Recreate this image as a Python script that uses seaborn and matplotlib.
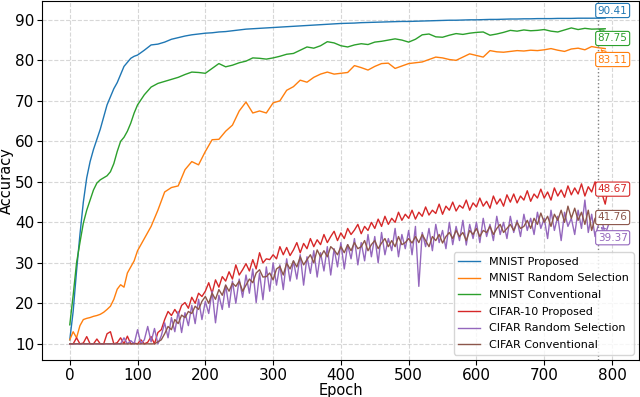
import numpy as np
import pandas as pd
import matplotlib
matplotlib.use('Agg')
import matplotlib.pyplot as plt
import seaborn as sns

# MNIST curves: every 5 epochs up to 100, then every 10
mnist_epochs = list(range(0, 100, 5)) + list(range(100, 800, 10))

mnist_proposed = [
    11.0, 18.0, 28.0, 37.0, 45.0, 51.0, 55.0, 58.0, 60.5, 63.0,
    66.0, 69.0, 71.0, 73.0, 74.5, 76.5, 78.5, 79.5, 80.5, 81.0,
    81.3, 82.5, 83.8, 84.0, 84.5, 85.2, 85.6, 86.0, 86.3, 86.5,
    86.7, 86.8, 87.0, 87.1, 87.3, 87.5, 87.7, 87.8, 87.9, 88.0,
    88.1, 88.2, 88.3, 88.4, 88.5, 88.6, 88.7, 88.8, 88.9, 89.0,
    89.1, 89.15, 89.2, 89.3, 89.35, 89.4, 89.45, 89.5, 89.55, 89.6,
    89.6, 89.65, 89.7, 89.75, 89.8, 89.85, 89.9, 89.9, 89.95, 90.0,
    90.0, 90.05, 90.1, 90.1, 90.15, 90.2, 90.2, 90.25, 90.25, 90.3,
    90.3, 90.3, 90.35, 90.35, 90.35, 90.4, 90.4, 90.4, 90.41, 90.45]

mnist_random = [
    11.0, 13.0, 11.5, 14.5, 16.0, 16.3, 16.5, 16.8, 17.0, 17.3,
    17.8, 18.5, 19.3, 21.0, 23.5, 24.6, 24.0, 27.5, 29.0, 30.5,
    33.0, 36.0, 39.0, 43.0, 47.5, 48.6, 49.0, 53.0, 55.0, 54.2,
    57.5, 60.4, 60.5, 62.5, 64.0, 67.5, 69.7, 67.0, 67.5, 67.0,
    69.5, 70.0, 72.6, 73.5, 75.1, 74.6, 75.8, 76.6, 77.1, 76.6,
    76.8, 77.0, 78.7, 78.2, 77.6, 78.5, 79.2, 79.3, 78.0, 78.6,
    79.2, 79.4, 79.6, 80.2, 80.8, 80.6, 80.2, 80.0, 80.8, 81.6,
    81.2, 80.8, 82.4, 82.1, 82.0, 82.2, 82.4, 82.3, 82.5, 82.4,
    82.6, 82.9, 82.5, 82.2, 82.8, 83.0, 82.6, 83.4, 83.11, 82.9]

mnist_conventional = [
    14.7, 22.0, 30.0, 35.0, 39.8, 43.0, 45.5, 48.0, 49.7, 50.5,
    51.0, 51.5, 52.5, 54.5, 57.5, 60.0, 61.0, 62.5, 64.5, 67.0,
    69.0, 71.5, 73.4, 74.3, 74.8, 75.3, 75.8, 76.5, 77.1, 77.0,
    76.8, 78.0, 79.2, 78.4, 78.8, 79.4, 79.8, 80.6, 80.5, 80.3,
    80.6, 81.0, 81.5, 81.7, 82.5, 83.3, 83.0, 83.6, 84.6, 84.3,
    83.6, 83.3, 83.8, 84.1, 83.9, 84.5, 84.7, 85.0, 85.3, 85.0,
    84.5, 85.2, 86.3, 86.5, 85.8, 85.7, 86.2, 86.6, 86.4, 86.7,
    86.9, 87.0, 86.2, 86.5, 86.9, 87.4, 87.2, 87.5, 87.3, 87.4,
    87.6, 87.2, 87.0, 87.5, 88.0, 87.6, 87.9, 87.7, 87.75, 87.8]

# CIFAR curves, read every 5 epochs
cifar_epochs = list(range(0, 800, 5))

cifar_proposed = [
    10.0, 10.0, 11.5, 10.0, 10.2, 11.8, 10.0, 10.0, 11.2, 10.0,
    10.0, 12.5, 13.0, 10.0, 10.3, 11.5, 10.0, 11.9, 10.0, 10.2,
    10.0, 11.0, 10.0, 10.4, 11.8, 10.0, 12.8, 13.5, 16.0, 18.0,
    17.0, 18.5, 17.2, 19.5, 20.2, 18.8, 21.5, 20.0, 22.5, 21.7,
    23.0, 25.1, 22.5, 25.8, 24.0, 26.6, 25.5, 27.8, 26.0, 29.5,
    27.0, 28.3, 29.8, 28.0, 30.8, 28.5, 32.5, 30.0, 31.0, 30.8,
    32.0, 31.0, 34.0, 32.0, 33.8, 31.8, 33.2, 35.0, 32.5, 34.8,
    33.5, 36.0, 34.0, 35.7, 34.5, 37.0, 35.0, 36.5, 37.8, 35.5,
    37.4, 36.0, 38.5, 37.0, 38.1, 39.5, 37.2, 39.0, 38.0, 40.0,
    38.5, 40.8, 39.0, 41.5, 39.5, 41.0, 40.0, 42.5, 40.5, 42.0,
    41.0, 43.0, 40.8, 42.5, 41.5, 43.8, 41.8, 43.0, 42.2, 44.5,
    42.0, 44.0, 43.0, 45.0, 42.8, 44.2, 43.5, 45.5, 43.0, 44.8,
    43.8, 46.0, 44.0, 45.2, 43.5, 46.5, 44.5, 45.8, 44.0, 46.8,
    45.0, 47.0, 44.8, 46.5, 45.5, 47.8, 45.2, 47.0, 46.0, 48.2,
    46.0, 47.5, 45.5, 48.5, 46.5, 48.0, 46.2, 49.0, 46.8, 48.5,
    47.0, 49.5, 46.5, 48.8, 47.5, 50.0, 48.67, 47.2, 44.5, 49.0]

cifar_random = [
    10.0, 10.0, 10.0, 10.0, 10.0, 10.0, 10.0, 10.0, 10.0, 10.0,
    10.0, 10.0, 10.0, 10.0, 10.0, 10.0, 11.5, 10.0, 10.8, 10.0,
    13.5, 10.0, 11.0, 14.3, 10.5, 13.8, 10.0, 12.0, 15.2, 11.5,
    16.5, 13.0, 18.0, 12.8, 17.7, 14.5, 19.5, 15.0, 21.0, 16.0,
    20.5, 17.5, 23.0, 15.2, 22.0, 18.5, 24.5, 19.0, 25.5, 20.0,
    26.0, 21.5, 27.0, 22.5, 28.5, 20.2, 27.5, 20.9, 29.0, 23.0,
    30.0, 24.5, 29.5, 23.4, 31.0, 25.5, 30.5, 26.0, 32.0, 24.5,
    31.5, 27.4, 33.0, 26.5, 32.5, 28.0, 34.0, 27.0, 33.5, 29.0,
    35.0, 28.5, 34.5, 31.0, 36.0, 29.5, 35.0, 30.5, 37.0, 31.5,
    36.5, 30.0, 37.5, 32.0, 36.0, 33.0, 38.5, 31.5, 37.0, 33.5,
    38.0, 32.0, 39.0, 24.2, 37.5, 34.0, 38.5, 33.0, 39.5, 35.0,
    38.0, 33.5, 40.0, 34.5, 39.0, 35.5, 40.5, 34.4, 39.5, 36.0,
    40.0, 35.0, 41.0, 36.5, 39.5, 35.5, 41.5, 37.0, 40.0, 36.0,
    41.5, 37.5, 40.5, 36.5, 42.0, 38.0, 41.0, 37.0, 42.5, 38.5,
    41.0, 36.0, 43.0, 38.0, 41.5, 35.5, 42.5, 39.0, 41.0, 37.0,
    43.0, 38.5, 45.5, 37.5, 42.0, 36.5, 39.37, 40.5, 37.0, 39.5]

cifar_conventional = [
    10.0, 10.0, 10.0, 10.0, 10.0, 10.0, 10.0, 10.0, 10.0, 10.0,
    10.0, 10.0, 10.0, 10.0, 10.0, 10.0, 10.0, 10.0, 10.0, 10.0,
    10.0, 10.0, 10.0, 10.0, 10.0, 10.0, 10.5, 11.0, 12.5, 14.3,
    13.5, 16.0, 15.0, 17.1, 16.5, 18.0, 17.5, 19.3, 18.5, 20.5,
    21.7, 20.0, 22.5, 21.0, 23.4, 22.0, 24.5, 23.0, 25.0, 24.2,
    25.5, 23.0, 24.5, 26.0, 25.1, 27.5, 28.3, 26.5, 26.6, 27.5,
    25.8, 28.5, 29.1, 27.0, 29.9, 28.5, 30.5, 29.0, 31.5, 29.5,
    30.8, 32.0, 30.0, 33.2, 31.5, 33.0, 31.5, 34.0, 33.2, 32.0,
    34.0, 32.5, 34.5, 33.0, 35.0, 33.5, 34.0, 35.5, 33.0, 34.5,
    35.5, 33.5, 34.9, 36.0, 34.0, 35.5, 34.0, 36.5, 34.5, 35.0,
    36.0, 34.9, 36.5, 35.0, 37.0, 35.5, 34.0, 36.5, 35.5, 37.0,
    34.9, 36.5, 37.5, 36.0, 38.0, 36.5, 37.5, 35.5, 38.0, 37.0,
    38.5, 36.5, 38.0, 37.5, 39.0, 37.0, 38.5, 39.5, 37.5, 38.5,
    39.5, 38.0, 40.0, 38.5, 39.0, 40.5, 38.5, 41.0, 39.5, 42.3,
    40.0, 41.5, 39.0, 42.0, 40.5, 43.0, 40.0, 44.0, 41.0, 43.5,
    40.5, 42.5, 39.5, 43.0, 38.0, 41.0, 41.76, 39.5, 40.5, 42.0]

labels = ['MNIST Proposed', 'MNIST Random Selection', 'MNIST Conventional',
          'CIFAR-10 Proposed', 'CIFAR Random Selection', 'CIFAR Conventional']
final_epoch = 780
final_values = [90.41, 83.11, 87.75, 48.67, 39.37, 41.76]
label_y = [92.3, 80.2, 85.4, 48.2, 36.2, 41.2]

series = [(mnist_epochs, mnist_proposed), (mnist_epochs, mnist_random),
          (mnist_epochs, mnist_conventional), (cifar_epochs, cifar_proposed),
          (cifar_epochs, cifar_random), (cifar_epochs, cifar_conventional)]

colors = sns.color_palette('tab10', 6)

fig = plt.figure(figsize=(6.4, 3.97), dpi=100)
ax = fig.add_axes([0.0656, 0.093, 0.933, 0.904])

for (x, y), lab, c in zip(series, labels, colors):
    sns.lineplot(x=x, y=y, label=lab, color=c, linewidth=1.0, ax=ax)

ax.axvline(final_epoch, color='gray', linestyle=':', linewidth=1)

for v, ty, c in zip(final_values, label_y, colors):
    ax.annotate(f'{v:.2f}', xy=(final_epoch, v), xytext=(801, ty),
                ha='center', va='center', fontsize=7.5, color=c,
                bbox=dict(boxstyle='round,pad=0.2', fc='white', ec=c, lw=0.8),
                arrowprops=dict(arrowstyle='->', color=c, lw=0.8))

ax.set_xlim(-41, 840)
ax.set_ylim(6.0, 94.6)
ax.set_xticks(range(0, 801, 100))
ax.set_yticks(range(10, 91, 10))
ax.tick_params(labelsize=11, pad=2)
ax.grid(True, linestyle='--', alpha=0.5)
ax.set_xlabel('Epoch', fontsize=10.5, labelpad=0)
ax.set_ylabel('Accuracy', fontsize=10.5, labelpad=1)
ax.legend(loc='lower right', fontsize=8, labelspacing=0.6)

fig.savefig('out.png', dpi=100)
